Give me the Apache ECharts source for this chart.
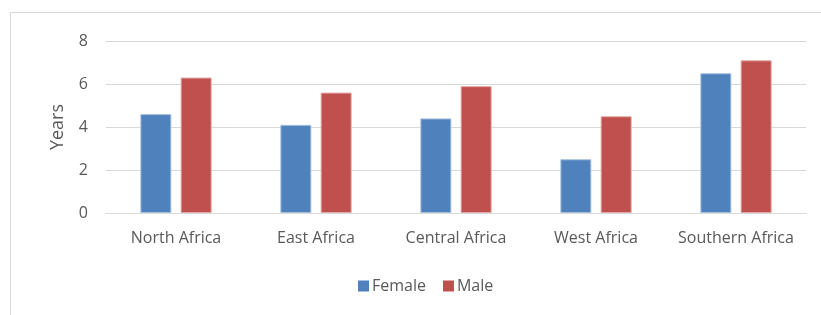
<!DOCTYPE html>
<html>
<head>
<meta charset="utf-8">
<script src="https://cdn.jsdelivr.net/npm/echarts@6/dist/echarts.min.js"></script>
<style>
  html, body { margin: 0; padding: 0; background: #fff; }
  #chart { width: 821px; height: 315px; }
</style>
</head>
<body>
<div id="chart"></div>
<script>
var regions = ['North Africa', 'East Africa', 'Central Africa', 'West Africa', 'Southern Africa'];
var female = [4.6, 4.1, 4.4, 2.5, 6.5];
var male = [6.3, 5.6, 5.9, 4.5, 7.1];
var yTicks = [0, 2, 4, 6, 8];

var chart = echarts.init(document.getElementById('chart'));
var textFont = 'Open Sans';

var option = {
    animation: false,
    textStyle: { fontFamily: textFont },
    graphic: [
        {
            type: 'rect',
            shape: { x: 10.5, y: 12.5, width: 830, height: 320 },
            style: { fill: 'none', stroke: '#d9d9d9', lineWidth: 1 },
            silent: true
        }
    ],
    legend: {
        data: ['Female', 'Male'],
        bottom: 16,
        left: 353,
        itemWidth: 11,
        itemHeight: 11,
        itemGap: 17,
        icon: 'rect',
        itemStyle: { borderWidth: 0 },
        textStyle: { color: '#595959', fontSize: 16, fontFamily: textFont, padding: [0, 0, 0, -2] }
    },
    grid: {
        left: 106,
        right: 15,
        top: 41,
        bottom: 102
    },
    xAxis: {
        type: 'category',
        data: regions,
        axisLine: { lineStyle: { color: '#d9d9d9', width: 1 } },
        axisTick: { show: false },
        axisLabel: { color: '#595959', fontSize: 16, margin: 17, interval: 0, fontFamily: textFont }
    },
    yAxis: {
        type: 'value',
        min: yTicks[0],
        max: yTicks[yTicks.length - 1],
        interval: 2,
        name: 'Years',
        nameLocation: 'middle',
        nameGap: 39,
        nameTextStyle: { color: '#595959', fontSize: 18, fontFamily: textFont },
        axisLine: { show: false },
        axisTick: { show: false },
        axisLabel: { color: '#595959', fontSize: 16, margin: 18, fontFamily: textFont },
        splitLine: { lineStyle: { color: '#d9d9d9', width: 1 } }
    },
    series: [
        {
            name: 'Female',
            type: 'bar',
            data: female,
            barWidth: 31,
            barGap: '30%',
            itemStyle: { color: '#4f81bd', borderColor: '#a7c0de', borderWidth: 1 }
        },
        {
            name: 'Male',
            type: 'bar',
            data: male,
            barWidth: 31,
            itemStyle: { color: '#c0504d', borderColor: '#e0a8a6', borderWidth: 1 }
        }
    ]
};

chart.setOption(option);
</script>
</body>
</html>
